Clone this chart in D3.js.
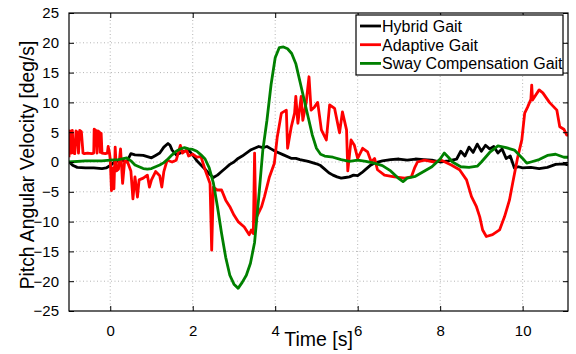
<!DOCTYPE html>
<html>
<head>
<meta charset="utf-8">
<script src="https://cdn.jsdelivr.net/npm/d3@7"></script>
<style>
    body { margin: 0; background: #fff; }
    svg { display: block; font-family: "Liberation Sans", Arial, sans-serif; }
    .grid line { stroke: #b4b4b4; stroke-dasharray: 1, 2.5; }
    .line { fill: none; stroke-width: 2.8; stroke-linejoin: round; }
</style>
</head>
<body>
<div id="chart"></div>
<script>
// tick values
const xTicks = [0, 2, 4, 6, 8, 10];
const yTicks = [-25, -20, -15, -10, -5, 0, 5, 10, 15, 20, 25];

// Hybrid Gait
const hybridT = [-1, -0.9, -0.8, -0.6, -0.4, -0.2, -0.1, 0, 0.1, 0.2, 0.3, 0.4, 0.5, 0.6, 0.8, 1.0, 1.1, 1.2, 1.3, 1.4, 1.45, 1.5, 1.6, 1.7, 1.8, 1.9, 2.0, 2.1, 2.2, 2.3, 2.4, 2.5, 2.6, 2.7, 2.8, 2.9, 3.0, 3.1, 3.2, 3.3, 3.4, 3.5, 3.6, 3.7, 3.8, 3.9, 4.0, 4.2, 4.4, 4.5, 4.6, 4.8, 5.0, 5.1, 5.2, 5.3, 5.4, 5.5, 5.6, 5.7, 5.8, 5.9, 6.0, 6.1, 6.2, 6.3, 6.4, 6.6, 6.8, 7.0, 7.2, 7.4, 7.6, 7.8, 8.0, 8.2, 8.4, 8.5, 8.6, 8.7, 8.8, 8.9, 9.0, 9.1, 9.2, 9.3, 9.4, 9.5, 9.6, 9.7, 9.8, 9.9, 10.0, 10.2, 10.4, 10.6, 10.8, 11.0, 11.1];
const hybridV = [0, -0.6, -0.9, -1.0, -1.0, -1.1, -1.0, -0.6, 0, 0.2, 0.3, 0, 1.4, 1.2, 1.1, 0.7, 1.1, 1.5, 2.5, 3.1, 2.8, 2.0, 1.2, 1.5, 1.8, 2.0, 1.2, 0.2, -0.5, -1.2, -2.0, -2.6, -2.2, -1.6, -1.0, -0.4, 0.0, 0.6, 1.0, 1.5, 2.0, 2.3, 2.6, 2.4, 2.6, 2.2, 1.8, 1.2, 0.6, 0.6, 0.4, 0.1, -0.3, -0.6, -1.2, -1.8, -2.2, -2.5, -2.7, -2.6, -2.5, -2.2, -2.3, -1.8, -1.2, -0.6, -0.2, 0.2, 0.4, 0.5, 0.3, 0.5, 0.4, 0.3, 0.0, 0.2, 0.5, 1.8, 1.0, 2.5, 1.6, 3.0, 1.8, 2.8, 2.2, 2.6, 1.5, 2.2, 0.6, 1.0, -1.0, -0.8, -1.0, -0.9, -1.1, -0.9, -0.4, -0.3, -0.5];

// Adaptive Gait
const adaptiveT = [-1.0, -0.98, -0.95, -0.92, -0.89, -0.86, -0.83, -0.8, -0.77, -0.74, -0.7, -0.66, -0.63, -0.55, -0.45, -0.4, -0.39, -0.35, -0.32, -0.3, -0.26, -0.24, -0.22, -0.2, -0.12, -0.07, -0.05, -0.02, 0.0, 0.03, 0.06, 0.09, 0.12, 0.15, 0.2, 0.25, 0.3, 0.35, 0.42, 0.5, 0.55, 0.6, 0.66, 0.7, 0.8, 0.9, 0.95, 1.0, 1.1, 1.2, 1.25, 1.3, 1.38, 1.5, 1.6, 1.7, 1.75, 1.85, 1.9, 2.0, 2.1, 2.2, 2.3, 2.42, 2.46, 2.5, 2.6, 2.7, 2.8, 2.9, 3.0, 3.1, 3.25, 3.37, 3.42, 3.47, 3.5, 3.53, 3.55, 3.67, 3.74, 3.86, 3.98, 4.05, 4.15, 4.27, 4.3, 4.39, 4.47, 4.5, 4.55, 4.63, 4.67, 4.75, 4.82, 4.87, 4.95, 5.03, 5.12, 5.24, 5.32, 5.44, 5.56, 5.63, 5.73, 5.76, 5.84, 5.92, 6.0, 6.12, 6.24, 6.33, 6.41, 6.48, 6.65, 6.89, 7.14, 7.3, 7.38, 7.45, 7.62, 7.86, 8.03, 8.27, 8.47, 8.64, 8.76, 8.88, 8.96, 9.03, 9.12, 9.27, 9.44, 9.56, 9.68, 9.76, 9.88, 9.98, 10.05, 10.12, 10.2, 10.22, 10.24, 10.4, 10.49, 10.65, 10.83, 10.9, 11.0, 11.07, 11.1];
const adaptiveV = [0.8, 5.2, 1.5, 5.3, 1.5, 1.4, 5.2, 5.0, 1.5, 5.3, 5.1, 1.5, 1.4, 1.5, 1.4, 1.5, 5.5, 5.3, 1.5, 5.2, 5.0, 1.6, 4.8, 1.5, 1.4, 1.5, 2.6, 1.6, 0.5, -4.8, -1.0, -4.5, 2.5, -1.5, -1.2, 2.2, -3.6, 0.2, 0.0, -1.5, -6.2, -2.5, -5.9, -3.0, -2.7, -2.2, -4.2, -3.0, -1.6, -2.3, -4.2, -1.6, 0.3, 0.0, 0.3, 2.8, 1.5, 2.0, 1.0, 1.3, 0.8, 0.9, -1.3, -3.6, -14.8, -4.2, -4.7, -4.7, -6.4, -7.5, -8.9, -10.0, -10.9, -12.2, -11.4, -12.0, 1.5, -10.0, -9.2, -7.5, -5.8, -2.5, -0.2, 4.2, 8.2, 8.7, 2.3, 5.9, 8.2, 11.0, 6.5, 11.0, 7.0, 9.9, 14.3, 8.7, 9.2, 10.0, 5.4, 3.7, 9.6, 9.0, 4.9, 8.4, 5.4, -1.5, 3.7, 2.8, 0.6, 2.3, 1.7, 0.0, 0.6, -1.3, -2.2, -2.5, -2.7, -2.5, -1.0, 0.0, 0.3, 0.0, 0.3, -0.5, -1.3, -3.0, -5.8, -7.5, -9.2, -11.4, -12.5, -12.2, -11.4, -9.2, -6.4, -3.5, 0.8, 3.7, 8.2, 9.2, 10.5, 12.9, 10.4, 12.1, 11.6, 10.0, 8.7, 5.9, 5.5, 4.5, 4.5];

// Sway Compensation Gait
const swayT = [-1, -0.6, -0.2, 0, 0.2, 0.4, 0.5, 0.6, 0.8, 0.9, 1.0, 1.1, 1.2, 1.3, 1.4, 1.5, 1.6, 1.7, 1.8, 1.9, 2.0, 2.1, 2.2, 2.3, 2.4, 2.5, 2.6, 2.7, 2.8, 2.9, 3.0, 3.1, 3.2, 3.3, 3.4, 3.5, 3.6, 3.7, 3.8, 3.9, 4.0, 4.1, 4.2, 4.3, 4.4, 4.5, 4.6, 4.7, 4.8, 4.9, 5.0, 5.1, 5.2, 5.4, 5.6, 5.8, 6.0, 6.2, 6.4, 6.6, 6.8, 7.0, 7.1, 7.2, 7.4, 7.6, 7.8, 8.0, 8.1, 8.2, 8.3, 8.5, 8.7, 8.9, 9.0, 9.2, 9.4, 9.6, 9.8, 10.0, 10.1, 10.2, 10.4, 10.6, 10.8, 11.0, 11.1];
const swayV = [0, 0.2, 0.2, 0.3, 0.4, 0.7, 0.2, -0.5, -1.1, -1.2, -1.1, -0.8, -0.5, -0.1, 0.5, 1.2, 1.8, 2.2, 2.4, 2.2, 2.1, 1.8, 1.2, 0.5, -1.0, -3.5, -7.5, -12.0, -16.0, -19.0, -20.5, -21.2, -20.2, -19.0, -17.0, -13.5, -6.0, 2.0, 7.0, 13.0, 17.5, 19.2, 19.3, 19.0, 18.2, 16.5, 13.5, 10.5, 7.5, 4.5, 2.3, 1.3, 1.0, 0.8, 0.4, 0.1, 0.3, 0.1, -0.2, -0.6, -1.5, -2.8, -3.3, -2.7, -2.4, -1.6, -0.8, 0.5, 1.5, 0.8, 0.0, -0.8, -0.9, -0.7, 0.0, 1.6, 2.7, 2.4, 2.0, 0.6, -0.2, 0.0, 0.4, 1.1, 1.3, 0.8, 0.8];

const seriesNames = ["Hybrid Gait", "Adaptive Gait", "Sway Compensation Gait"];
const seriesColors = ["#000000", "#ff0000", "#008000"];

function zipSeries(ts, vs) {
    return ts.map(function (t, i) { return { x: t, y: vs[i] }; });
}

const allSeries = [
    zipSeries(hybridT, hybridV),
    zipSeries(adaptiveT, adaptiveV),
    zipSeries(swayT, swayV)
];

// geometry
let margin = { top: 13, right: 8, bottom: 43, left: 69 },
    width = 576 - margin.left - margin.right,
    height = 354 - margin.top - margin.bottom;

let svg = d3.select("#chart")
    .append("svg")
    .attr("width", 576)
    .attr("height", 354)
    .append("g")
    .attr("transform", "translate(" + margin.left + "," + margin.top + ")");

let xScale = d3.scaleLinear().domain([-1, 11.1]).range([0, width]);
let yScale = d3.scaleLinear().domain([-25, 25]).range([height, 0]);

// grid
svg.append("g")
    .attr("class", "grid")
    .selectAll("line.gx")
    .data(xTicks)
    .enter()
    .append("line")
    .attr("x1", d => xScale(d)).attr("x2", d => xScale(d))
    .attr("y1", 0).attr("y2", height);

svg.append("g")
    .attr("class", "grid")
    .selectAll("line.gy")
    .data(yTicks.slice(1, -1))
    .enter()
    .append("line")
    .attr("y1", d => yScale(d)).attr("y2", d => yScale(d))
    .attr("x1", 0).attr("x2", width);

// lines
let lineGenerator = d3.line()
    .x(d => xScale(d.x))
    .y(d => yScale(d.y));

svg.append("defs").append("clipPath").attr("id", "clip")
    .append("rect").attr("width", width).attr("height", height);

let plot = svg.append("g").attr("clip-path", "url(#clip)");
allSeries.forEach(function (data, i) {
    plot.append("path")
        .datum(data)
        .attr("class", "line")
        .attr("stroke", seriesColors[i])
        .attr("d", lineGenerator);
});

// axes (ticks inside, box on all sides)
function styleAxis(g) {
    g.select(".domain").remove();
    g.selectAll("text")
        .attr("font-size", "15px")
        .attr("fill", "#000")
        .attr("font-family", "'Liberation Sans', Arial, sans-serif");
    g.selectAll("line").attr("stroke", "#000");
}

svg.append("g")
    .attr("transform", "translate(0," + height + ")")
    .call(d3.axisBottom(xScale).tickValues(xTicks).tickSizeInner(-5).tickPadding(14))
    .call(styleAxis);

svg.append("g")
    .call(d3.axisTop(xScale).tickValues(xTicks).tickSizeInner(-5).tickFormat(""))
    .call(styleAxis);

svg.append("g")
    .call(d3.axisLeft(yScale).tickValues(yTicks).tickSizeInner(-5).tickPadding(10))
    .call(styleAxis);

svg.append("g")
    .attr("transform", "translate(" + width + ",0)")
    .call(d3.axisRight(yScale).tickValues(yTicks).tickSizeInner(-5).tickFormat(""))
    .call(styleAxis);

svg.append("rect")
    .attr("width", width)
    .attr("height", height)
    .attr("fill", "none")
    .attr("stroke", "#000")
    .attr("stroke-width", 1.2);

// axis titles
svg.append("text")
    .attr("text-anchor", "middle")
    .attr("x", width / 2)
    .attr("y", height + 35)
    .attr("font-size", "19.5px")
    .text("Time [s]");

svg.append("text")
    .attr("text-anchor", "middle")
    .attr("transform", "rotate(-90)")
    .attr("x", -height / 2 - 3)
    .attr("y", -margin.left + 34)
    .attr("font-size", "19.3px")
    .text("Pitch Angular Velocity [deg/s]");

// legend
let legend = svg.append("g")
    .attr("transform", "translate(" + (356 - margin.left) + "," + (15 - margin.top) + ")");

legend.append("rect")
    .attr("width", 207)
    .attr("height", 60)
    .attr("fill", "#fff")
    .attr("stroke", "#000")
    .attr("stroke-width", 1.2);

seriesNames.forEach(function (name, i) {
    let yPos = 11 + i * 18.7;
    legend.append("line")
        .attr("x1", 4).attr("x2", 25)
        .attr("y1", yPos).attr("y2", yPos)
        .attr("stroke", seriesColors[i])
        .attr("stroke-width", 2.8);
    legend.append("text")
        .attr("x", 26)
        .attr("y", yPos + 5.8)
        .attr("font-size", "16px")
        .text(name);
});
</script>
</body>
</html>
